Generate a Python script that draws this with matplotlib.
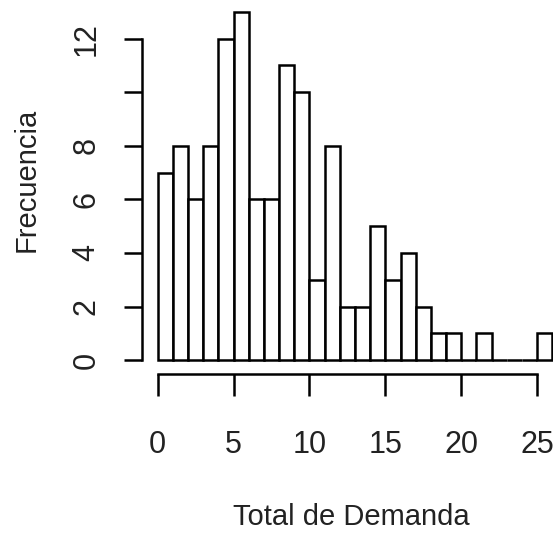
import numpy as np
import matplotlib.pyplot as plt

plt.rcParams['font.family'] = ['Liberation Sans Narrow', 'Liberation Sans', 'DejaVu Sans']

# histogram of "Total de Demanda", bins of width 1 from 0 to 26
bin_edges = list(range(0, 27))
counts = [7, 8, 6, 8, 12, 13, 6, 6, 11, 10, 3, 8, 2,
          2, 5, 3, 4, 2, 1, 1, 0, 1, 0, 0, 0, 1]
x_ticks = [0, 5, 10, 15, 20, 25]
y_ticks = [0, 2, 4, 6, 8, 10, 12]
y_ticklabels = ['0', '2', '4', '6', '8', '', '12']

W, H = 553, 545
fig = plt.figure(figsize=(W / 100, H / 100), dpi=100)
ax = fig.add_axes([142 / W, (H - 374) / H, (568 - 142) / W, (374 + 2) / H])

ax.bar(bin_edges[:-1], counts, width=1, align='edge',
       facecolor='white', edgecolor='black', linewidth=1.8)

# R style axes: 4% padding, spines only over the tick range
ax.set_xlim(-0.04 * 26, 26 * 1.04)
ax.set_ylim(-0.04 * 13, 13 * 1.04)

for s in ['top', 'right']:
    ax.spines[s].set_visible(False)
ax.spines['left'].set_bounds(0, 12)
ax.spines['bottom'].set_bounds(0, 25)
ax.spines['left'].set_linewidth(1.8)
ax.spines['bottom'].set_linewidth(1.8)

ax.set_xticks(x_ticks)
ax.set_yticks(y_ticks)
ax.set_yticklabels(y_ticklabels, rotation=90, va='center')
ax.tick_params(axis='x', length=16, width=1.8, pad=24, labelsize=22,
               labelcolor='#222222')
ax.tick_params(axis='y', length=13, width=1.8, pad=16, labelsize=22,
               labelcolor='#222222')

fig.text(351 / W, 1 - 517 / H, 'Total de Demanda', ha='center', va='center',
         fontsize=21, color='#222222')
fig.text(27 / W, 1 - 180 / H, 'Frecuencia', ha='center', va='center',
         rotation=90, fontsize=21, color='#222222')

fig.savefig('out.png', dpi=100)
